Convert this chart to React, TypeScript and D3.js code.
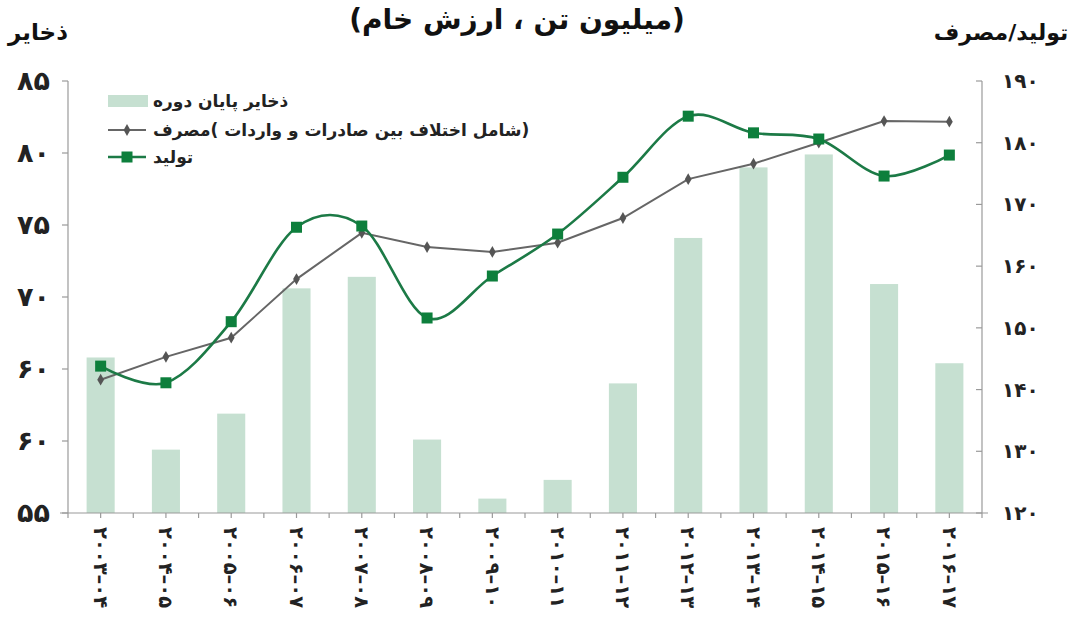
import React, { useEffect, useRef } from 'react';
import * as d3 from 'd3';

const categories = [
  '۲۰۰۳–۰۴', '۲۰۰۴–۰۵', '۲۰۰۵–۰۶', '۲۰۰۶–۰۷', '۲۰۰۷–۰۸', '۲۰۰۸–۰۹', '۲۰۰۹–۱۰',
  '۲۰۱۰–۱۱', '۲۰۱۱–۱۲', '۲۰۱۲–۱۳', '۲۰۱۳–۱۴', '۲۰۱۴–۱۵', '۲۰۱۵–۱۶', '۲۰۱۶–۱۷',
];
// ذخایر پایان دوره (left axis)
const stocks = [65.8, 59.4, 61.9, 70.6, 71.4, 60.1, 56.0, 57.3, 64.0, 74.1, 79.0, 79.9, 70.9, 65.4];
// مصرف (right axis)
const consumption = [141.6, 145.3, 148.4, 157.9, 165.4, 163.1, 162.3, 163.8, 167.8, 174.1, 176.6, 180.0, 183.5, 183.4];
// تولید (right axis)
const production = [143.8, 141.1, 151.0, 166.3, 166.5, 151.6, 158.4, 165.2, 174.4, 184.3, 181.6, 180.6, 174.6, 178.0];

const leftTicks = [55, 60, 65, 70, 75, 80, 85];
const leftTickLabels = ['۵۵', '۶۰', '۶۰', '۷۰', '۷۵', '۸۰', '۸۵'];
const rightTicks = [120, 130, 140, 150, 160, 170, 180, 190];
const rightTickLabels = ['۱۲۰', '۱۳۰', '۱۴۰', '۱۵۰', '۱۶۰', '۱۷۰', '۱۸۰', '۱۹۰'];

const legendLabels = ['ذخایر پایان دوره', '(شامل اختلاف بین صادرات و واردات )مصرف', 'تولید'];

const FONT = '"DejaVu Sans", sans-serif';
const BAR = '#c6e0d1';
const GREEN = '#1c7a46';
const GREEN_MARK = '#0d7f3c';
const GRAY = '#666666';
const AXIS = '#9a9a9a';

const App = () => {
  const ref = useRef<SVGSVGElement>(null);

  useEffect(() => {
    const W = 1071, H = 632;
    const left = 68, right = 982, top = 81, bottom = 513;
    const svg = d3.select(ref.current);
    svg.selectAll('*').remove();
    svg.attr('width', W).attr('height', H);

    const x = d3.scaleBand<string>().domain(categories).range([left, right])
      .paddingInner(0.57).paddingOuter(0.285);
    const yL = d3.scaleLinear().domain([55, 85]).range([bottom, top]);
    const yR = d3.scaleLinear().domain([120, 190]).range([bottom, top]);
    const cx = (i: number) => (x(categories[i]) as number) + x.bandwidth() / 2;

    // Bars
    svg.append('g').selectAll('rect').data(stocks).enter().append('rect')
      .attr('x', (d, i) => x(categories[i]) as number)
      .attr('y', d => yL(d))
      .attr('width', x.bandwidth())
      .attr('height', d => bottom - yL(d))
      .attr('fill', BAR);

    // Axes lines
    const ax = svg.append('g').attr('stroke', AXIS).attr('stroke-width', 1.2);
    ax.append('line').attr('x1', left).attr('x2', left).attr('y1', top).attr('y2', bottom);
    ax.append('line').attr('x1', right).attr('x2', right).attr('y1', top).attr('y2', bottom);
    ax.append('line').attr('x1', left - 8).attr('x2', right + 6).attr('y1', bottom).attr('y2', bottom);
    leftTicks.forEach(t => {
      ax.append('line').attr('x1', left - 6).attr('x2', left).attr('y1', yL(t)).attr('y2', yL(t));
    });
    rightTicks.forEach(t => {
      ax.append('line').attr('x1', right - 6).attr('x2', right).attr('y1', yR(t)).attr('y2', yR(t));
    });
    const step = x.step();
    for (let i = 0; i <= categories.length; i++) {
      const bx = left + i * step;
      ax.append('line').attr('x1', bx).attr('x2', bx).attr('y1', bottom).attr('y2', bottom + 5);
      if (i < categories.length) {
        ax.append('line').attr('x1', cx(i)).attr('x2', cx(i)).attr('y1', bottom).attr('y2', bottom + 5);
      }
    }

    // Tick labels
    svg.append('g').selectAll('text').data(leftTicks).enter().append('text')
      .attr('x', 50).attr('y', d => yL(d)).attr('dy', '0.35em')
      .attr('text-anchor', 'end').attr('font-family', FONT).attr('font-weight', 'bold')
      .attr('font-size', 27).attr('fill', '#222')
      .text((d, i) => leftTickLabels[i]);
    svg.append('g').selectAll('text').data(rightTicks).enter().append('text')
      .attr('x', 1002).attr('y', d => yR(d)).attr('dy', '0.35em')
      .attr('text-anchor', 'start').attr('font-family', FONT).attr('font-weight', 'bold')
      .attr('font-size', 20).attr('fill', '#222')
      .text((d, i) => rightTickLabels[i]);
    svg.append('g').selectAll('text').data(categories).enter().append('text')
      .attr('transform', (d, i) => `translate(${cx(i)},527) rotate(90)`)
      .attr('dy', '0.35em').attr('text-anchor', 'start').attr('direction', 'ltr')
      .attr('font-family', FONT).attr('font-weight', 'bold').attr('font-size', 19.5).attr('fill', '#222')
      .text(d => d);

    // Lines
    const lineC = d3.line<number>().x((d, i) => cx(i)).y(d => yR(d));
    const lineP = d3.line<number>().x((d, i) => cx(i)).y(d => yR(d)).curve(d3.curveCardinal);
    svg.append('path').attr('d', lineC(consumption)).attr('fill', 'none')
      .attr('stroke', GRAY).attr('stroke-width', 2);
    svg.append('path').attr('d', lineP(production)).attr('fill', 'none')
      .attr('stroke', GREEN).attr('stroke-width', 2.6);
    const diamond = d3.symbol().type(d3.symbolDiamond).size(40);
    svg.append('g').selectAll('path').data(consumption).enter().append('path')
      .attr('d', diamond() as string)
      .attr('transform', (d, i) => `translate(${cx(i)},${yR(d)})`)
      .attr('fill', '#555');
    svg.append('g').selectAll('rect').data(production).enter().append('rect')
      .attr('x', (d, i) => cx(i) - 5.5).attr('y', d => yR(d) - 5.5)
      .attr('width', 11).attr('height', 11).attr('fill', GREEN_MARK);

    // Legend
    const lg = svg.append('g');
    lg.append('rect').attr('x', 108).attr('y', 95).attr('width', 40).attr('height', 12).attr('fill', BAR);
    lg.append('line').attr('x1', 108).attr('x2', 146).attr('y1', 130).attr('y2', 130)
      .attr('stroke', GRAY).attr('stroke-width', 2);
    lg.append('path').attr('d', diamond() as string).attr('transform', 'translate(127,130)').attr('fill', '#555');
    lg.append('line').attr('x1', 108).attr('x2', 146).attr('y1', 157).attr('y2', 157)
      .attr('stroke', GREEN).attr('stroke-width', 2.6);
    lg.append('rect').attr('x', 121.5).attr('y', 151.5).attr('width', 11).attr('height', 11).attr('fill', GREEN_MARK);
    [101, 130, 157].forEach((yy, i) => {
      lg.append('text').attr('x', 153).attr('y', yy).attr('dy', '0.35em')
        .attr('direction', 'rtl').attr('text-anchor', 'end')
        .attr('font-family', FONT).attr('font-weight', 'bold').attr('font-size', 17).attr('fill', '#222')
        .text(legendLabels[i]);
    });

    // Titles
    svg.append('text').attr('x', 517).attr('y', 29).attr('text-anchor', 'middle').attr('direction', 'rtl')
      .attr('font-family', FONT).attr('font-weight', 'bold').attr('font-size', 28).attr('fill', '#111')
      .text('(میلیون تن ، ارزش خام)');
    svg.append('text').attr('x', 38).attr('y', 40).attr('text-anchor', 'middle').attr('direction', 'rtl')
      .attr('font-family', FONT).attr('font-weight', 'bold').attr('font-size', 23).attr('fill', '#111')
      .text('ذخایر');
    svg.append('text').attr('x', 1001).attr('y', 40).attr('text-anchor', 'middle').attr('direction', 'rtl')
      .attr('font-family', FONT).attr('font-weight', 'bold').attr('font-size', 22).attr('fill', '#111')
      .text('تولید/مصرف');
  }, []);

  return (
    <div style={{ position: 'absolute', left: 0, top: 0, background: '#fff' }}>
      <svg ref={ref} style={{ display: 'block' }} />
    </div>
  );
};

export default App;
